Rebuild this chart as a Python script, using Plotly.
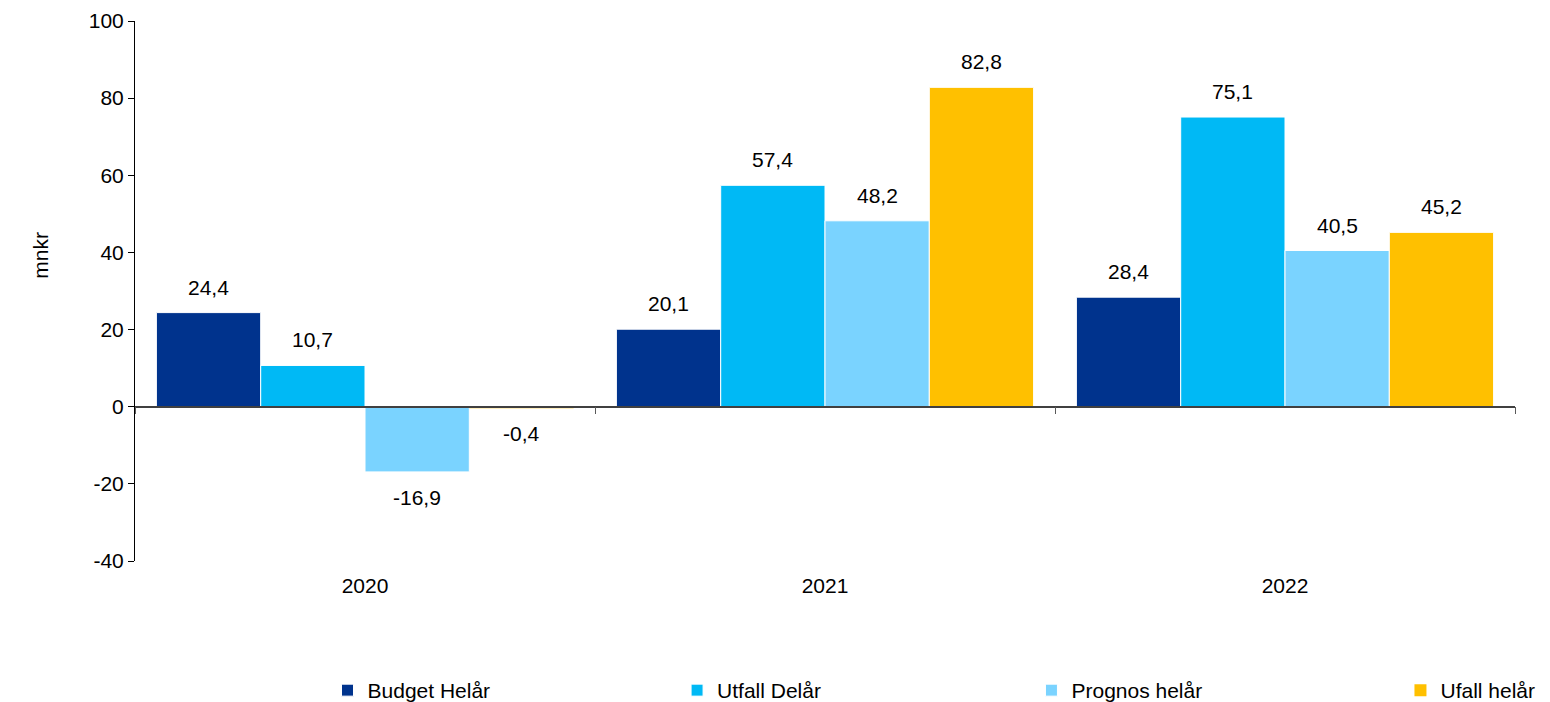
"""Budget / utfall / prognos per år, grupperade staplar."""

import plotly.graph_objects as go

YEARS = ["2020", "2021", "2022"]
SERIES = ["Budget Helår", "Utfall Delår", "Prognos helår", "Ufall helår"]
BUDGET_HELAR = [24.4, 20.1, 28.4]
UTFALL_DELAR = [10.7, 57.4, 75.1]
PROGNOS_HELAR = [-16.9, 48.2, 40.5]
UFALL_HELAR = [-0.4, 82.8, 45.2]
Y_TICKS = [-40, -20, 0, 20, 40, 60, 80, 100]

COLORS = ["#00338D", "#00B9F5", "#7AD3FF", "#FFC000"]
FONT = "Liberation Sans, Arial, sans-serif"
FS = 21
BARGAP = 0.093
# vänsterkant (paper-x) för varje serie-legend
LEGEND_X = [0.1395, 0.3928, 0.6496, 0.9170]

values = [BUDGET_HELAR, UTFALL_DELAR, PROGNOS_HELAR, UFALL_HELAR]
x_idx = list(range(len(YEARS)))

fig = go.Figure()
for k, (name, vals, color) in enumerate(zip(SERIES, values, COLORS)):
    fig.add_trace(
        go.Bar(
            x=x_idx,
            y=vals,
            name=name,
            legend="legend" if k == 0 else f"legend{k + 1}",
            marker=dict(
                color=color,
                line=dict(color="white", width=[1 if abs(v) > 1 else 0 for v in vals]),
            ),
            hoverinfo="skip",
        )
    )

# värdeetiketter via annotationer så avståndet till stapeln blir som i förlagan
n = len(SERIES)
bar_w = (1 - BARGAP) / n
for i, vals in enumerate(values):
    offset = -(1 - BARGAP) / 2 + bar_w * (i + 0.5)
    for xi, v in zip(x_idx, vals):
        fig.add_annotation(
            x=xi + offset,
            y=v,
            text=f"{v:.1f}".replace(".", ","),
            showarrow=False,
            yanchor="bottom" if v >= 0 else "top",
            yshift=12 if v >= 0 else -12,
            font=dict(size=FS, color="#000000", family=FONT),
        )

# osynlig trace för axeln med kategorigränser vid nollinjen
fig.add_trace(
    go.Scatter(x=[-0.5, 2.5], y=[0, 0], xaxis="x2", mode="lines",
               line=dict(width=0), showlegend=False, hoverinfo="skip")
)

fig.add_annotation(
    text="mnkr", textangle=-90, showarrow=False,
    xref="paper", yref="paper", x=-0.078, y=0.567,
    font=dict(size=FS, color="#000000", family=FONT),
)

legends = {}
for k, lx in enumerate(LEGEND_X):
    key = "legend" if k == 0 else f"legend{k + 1}"
    legends[key] = dict(
        orientation="h",
        x=lx,
        xanchor="left",
        xref="paper",
        y=(702 - 670) / 702,
        yref="container",
        yanchor="top",
        font=dict(size=FS, family=FONT),
        bgcolor="rgba(0,0,0,0)",
    )

fig.update_layout(
    barmode="group",
    bargap=BARGAP,
    bargroupgap=0,
    width=1550,
    height=702,
    margin=dict(l=135, r=35, t=21, b=141, autoexpand=False),
    paper_bgcolor="white",
    plot_bgcolor="white",
    font=dict(family=FONT, size=FS, color="#000000"),
    showlegend=True,
    **legends,
    xaxis=dict(
        range=[-0.5, 2.5],
        tickvals=x_idx,
        ticktext=YEARS,
        ticks="",
        showline=False,
        showgrid=False,
        zeroline=False,
        ticklabelstandoff=10,
        automargin=False,
    ),
    xaxis2=dict(
        overlaying="x",
        anchor="free",
        position=40 / 140,
        range=[-0.5, 2.5],
        tickvals=[-0.5, 0.5, 1.5, 2.5],
        showticklabels=False,
        ticks="outside",
        ticklen=7,
        tickcolor="#595959",
        showline=True,
        linecolor="#404040",
        linewidth=1.5,
        showgrid=False,
        zeroline=False,
        automargin=False,
    ),
    yaxis=dict(
        range=[-40, 100],
        tickvals=Y_TICKS,
        ticktext=[str(t) for t in Y_TICKS],
        ticks="outside",
        ticklen=6,
        tickcolor="#000000",
        showline=True,
        linecolor="#000000",
        linewidth=1,
        showgrid=False,
        zeroline=False,
        automargin=False,
    ),
)

# sidans standardmarginal (8px) skulle annars förskjuta hela figuren
fig.write_html(
    "out.html",
    config={"displayModeBar": False},
    post_script="document.body.style.margin='0';",
)
